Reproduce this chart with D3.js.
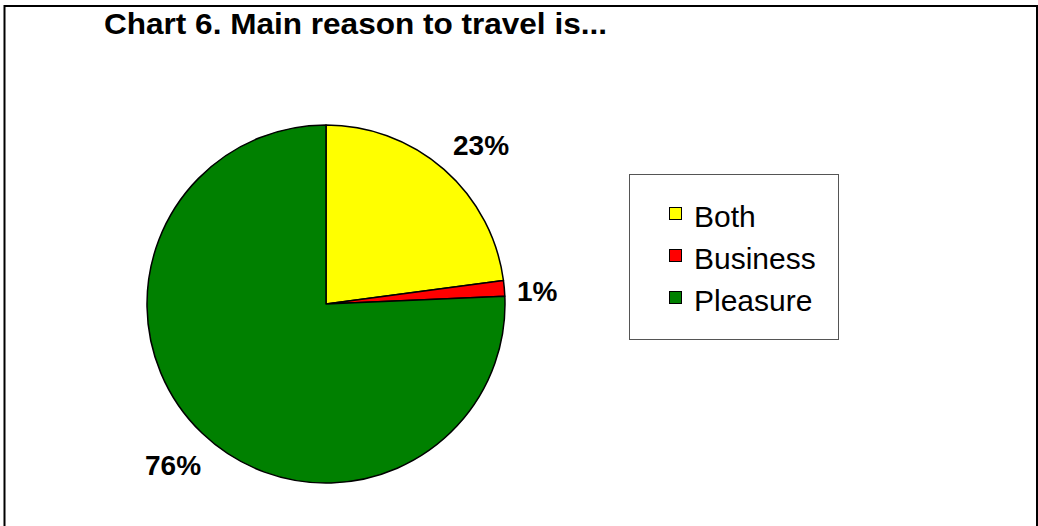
<!DOCTYPE html>
<html>
<head>
<meta charset="utf-8">
<script src="https://cdn.jsdelivr.net/npm/d3@7"></script>
<style>
  html, body { margin: 0; padding: 0; background: #fff; }
  svg { display: block; }
  text { font-family: "Liberation Sans", Arial, sans-serif; fill: #000; }
</style>
</head>
<body>
<svg id="chart" width="1038" height="526"></svg>
<script>
// Survey answers: main reason to travel (percent of respondents)
const categories = ["Both", "Business", "Pleasure"];
const shares = [22.9, 1.4, 75.7];
const valueLabels = ["23%", "1%", "76%"];
const sliceColors = ["#FFFF00", "#FF0000", "#008000"];
const title = "Chart 6. Main reason to travel is...";

const svg = d3.select("#chart");

// outer frame
svg.append("rect")
  .attr("x", 4.5).attr("y", 6).attr("width", 1032.5).attr("height", 530)
  .attr("fill", "#fff").attr("stroke", "#000").attr("stroke-width", 2);

svg.append("text")
  .attr("x", 104).attr("y", 34)
  .attr("font-size", 29.5).attr("font-weight", "bold")
  .attr("textLength", 503).attr("lengthAdjust", "spacingAndGlyphs")
  .text(title);

// pie, starting at 12 o'clock and running clockwise
const cx = 326, cy = 304, radius = 179;
const color = d3.scaleOrdinal().domain(categories).range(sliceColors);
const pie = d3.pie().sort(null).value(d => d.value);
const arcs = pie(categories.map((c, i) => ({ name: c, value: shares[i], label: valueLabels[i] })));
const arc = d3.arc().innerRadius(0).outerRadius(radius);

const g = svg.append("g").attr("transform", `translate(${cx},${cy})`);
g.selectAll("path.slice")
  .data(arcs)
  .join("path")
  .attr("class", "slice")
  .attr("d", arc)
  .attr("fill", d => color(d.data.name))
  .attr("stroke", "#000")
  .attr("stroke-width", 1.5)
  .attr("stroke-linejoin", "round");

// percentage labels set just outside each slice
const labelPos = {
  "Both": [453 - cx, 155 - cy],
  "Business": [517 - cx, 301 - cy],
  "Pleasure": [145 - cx, 475 - cy]
};
g.selectAll("text.pct")
  .data(arcs)
  .join("text")
  .attr("class", "pct")
  .attr("font-size", 28)
  .attr("font-weight", "bold")
  .attr("x", d => labelPos[d.data.name][0])
  .attr("y", d => labelPos[d.data.name][1])
  .text(d => d.data.label);

// legend
const legend = svg.append("g");
legend.append("rect")
  .attr("x", 629.5).attr("y", 174.5).attr("width", 209).attr("height", 165)
  .attr("fill", "#fff").attr("stroke", "#555").attr("stroke-width", 1);

const rowY = d3.scalePoint().domain(categories).range([227, 311]);
const item = legend.selectAll("g.item")
  .data(categories)
  .join("g")
  .attr("class", "item")
  .attr("transform", d => `translate(0,${rowY(d)})`);
item.append("rect")
  .attr("x", 669.5).attr("y", -19.5).attr("width", 12).attr("height", 12)
  .attr("fill", d => color(d)).attr("stroke", "#000").attr("stroke-width", 1);
item.append("text")
  .attr("x", 694).attr("y", 0)
  .attr("font-size", 30)
  .text(d => d);
</script>
</body>
</html>
